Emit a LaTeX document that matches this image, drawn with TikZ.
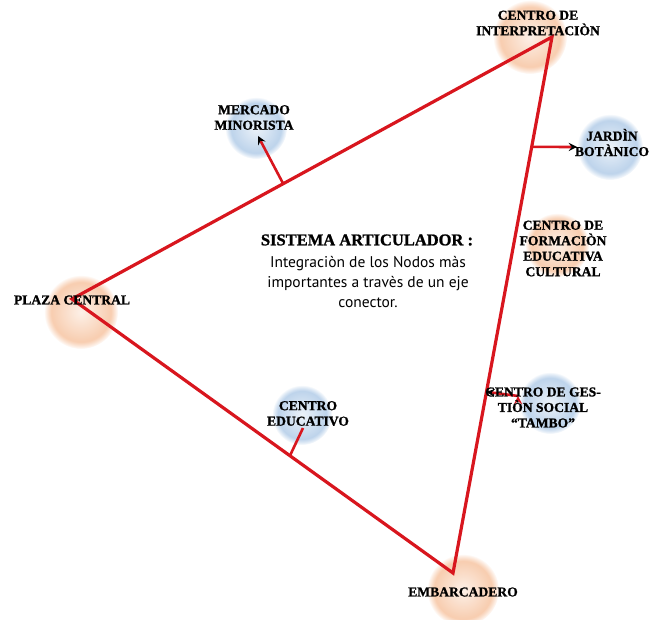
\documentclass[tikz,border=0pt]{standalone}
\usepackage{fontspec}
\setmainfont{Liberation Serif}
\newfontfamily\placefont[UprightFont={* Bold}, FakeBold=1.2]{Liberation Serif}
\newfontfamily\bodyfont{PT Sans}
\usetikzlibrary{arrows,fadings}
\definecolor{blobor}{HTML}{F2A570}
\definecolor{blobbl}{HTML}{7FAAD8}
\definecolor{axisred}{HTML}{D8161E}

\begin{document}
\begin{tikzpicture}[x=1pt, y=-1pt, >=stealth]
    \tikzstyle{orblob} = [inner color=blobor!25, outer color=blobor, path fading=circle with fuzzy edge 20 percent, opacity=0.65]
    \tikzstyle{blblob} = [inner color=blobbl!25, outer color=blobbl, path fading=circle with fuzzy edge 20 percent, opacity=0.6]
    \tikzstyle{place} = [align=center, inner sep=0pt, font=\placefont\fontsize{13.6}{15.5}\selectfont]
    \tikzstyle{axis} = [draw=axisred, line width=3.2pt, line join=miter]
    \tikzstyle{branch} = [draw=axisred, line width=2.6pt]
    \useasboundingbox (0,0) rectangle (659,620);
    % blobs
    \shade[orblob] (530,37) circle (37);
    \shade[orblob] (81,312) circle (37);
    \shade[orblob] (463,590) circle (36);
    \shade[orblob] (557,245) circle (32);
    \shade[blblob] (256,128) circle (31);
    \shade[blblob] (610,147) circle (33);
    \shade[blblob] (302,415) circle (30);
    \shade[blblob] (550,403) circle (31);
    % triangle
    \coordinate (ci) at (552,37);
    \coordinate (pc) at (72,299);
    \coordinate (em) at (453,573);
    \path[axis] (pc) -- (ci) -- (em) -- cycle;
    \path (pc) -- (ci) coordinate[pos=0.44] (mmb);
    \path (ci) -- (em) coordinate[pos=0.205] (jbb) coordinate[pos=0.662] (ctb);
    \path (pc) -- (em) coordinate[pos=0.572] (ceb);
    \coordinate (mmt) at (258,136);
    \coordinate (jbt) at (577,147);
    \coordinate (cet) at (303,428);
    \coordinate (ctt) at (518,396);
    \path[branch, ->]
        (mmb) edge (mmt)
        (jbb) edge (jbt)
        (ceb) edge[-] (cet)
        (ctt) edge (ctb);
    % labels
    \path
        node[place] (cil) at (538,23) {CENTRO DE\\INTERPRETACIÒN}
        node[place] (jbl) at (612,142.5) {JARDÌN\\BOTÀNICO}
        node[place] (mml) at (254,117.5) {MERCADO\\MINORISTA}
        node[place] (pcl) at (72,300) {PLAZA CENTRAL}
        node[place] (cfl) at (563,248.5) {CENTRO DE\\FORMACIÒN\\EDUCATIVA\\CULTURAL}
        node[place] (cel) at (308,413.5) {CENTRO\\EDUCATIVO}
        node[place] (ctl) at (543,407.5) {CENTRO DE GES-\\TIÒN SOCIAL\\“TAMBO”}
        node[place] (eml) at (463,592) {EMBARCADERO}
        node[place, font=\placefont\fontsize{16.5}{19}\selectfont] (title) at (367,240) {SISTEMA ARTICULADOR :}
        node[align=center, inner sep=0pt, font=\bodyfont\fontsize{15.5}{20}\selectfont] (body) at (368,282) {Integraciòn de los Nodos màs\\importantes a travès de un eje\\conector.};
\end{tikzpicture}
\end{document}
